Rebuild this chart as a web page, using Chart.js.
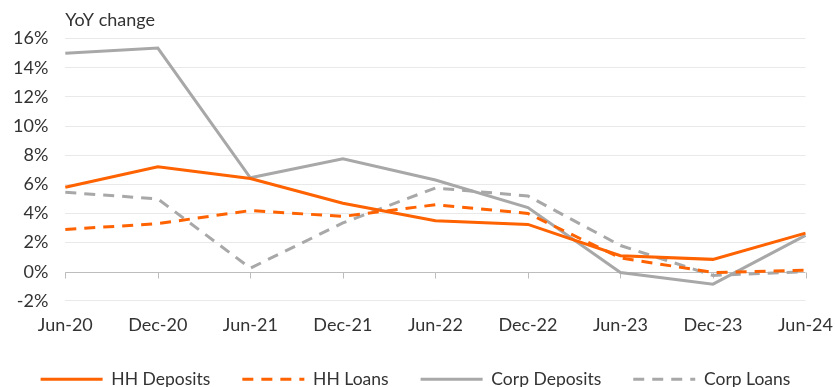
<!DOCTYPE html>
<html>
<head>
<meta charset="utf-8">
<script src="https://cdn.jsdelivr.net/npm/chart.js@4/dist/chart.umd.min.js"></script>
<style>
  html, body { margin: 0; padding: 0; background: #fff; overflow: hidden; }
  #wrap { width: 835px; height: 387px; position: relative; }
</style>
</head>
<body>
<div id="wrap"><canvas id="c"></canvas></div>
<script>
// Half-yearly periods
const periods = ['Jun-20', 'Dec-20', 'Jun-21', 'Dec-21', 'Jun-22', 'Dec-22', 'Jun-23', 'Dec-23', 'Jun-24'];

// Year-on-year growth, %
const hhDeposits   = [5.8, 7.2, 6.4, 4.7, 3.5, 3.25, 1.1, 0.85, 2.65];
const hhLoans      = [2.9, 3.3, 4.2, 3.8, 4.6, 4.0, 0.95, -0.05, 0.1];
const corpDeposits = [15.0, 15.35, 6.45, 7.75, 6.3, 4.4, -0.05, -0.85, 2.5];
const corpLoans    = [5.45, 5.0, 0.25, 3.35, 5.75, 5.2, 1.8, -0.25, 0.0];

const seriesNames = ['HH Deposits', 'HH Loans', 'Corp Deposits', 'Corp Loans'];
const yTicks = [-2, 0, 2, 4, 6, 8, 10, 12, 14, 16];

const ORANGE = '#ff6200';
const GREY = '#a8a8a8';
const TEXT = '#333333';
const FONT = 'Lato, "Noto Sans", sans-serif';

// Zero line with small downward tick marks at each period
const zeroTicks = {
  id: 'zeroTicks',
  beforeDatasetsDraw(chart) {
    const { ctx, scales: { x, y } } = chart;
    const y0 = Math.round(y.getPixelForValue(0)) + 0.5;
    ctx.save();
    ctx.strokeStyle = '#bdbdbd';
    ctx.lineWidth = 1;
    ctx.beginPath();
    ctx.moveTo(x.left, y0);
    ctx.lineTo(x.right, y0);
    periods.forEach((p, i) => {
      const px = Math.round(x.getPixelForValue(i)) + 0.5;
      ctx.moveTo(px, y0);
      ctx.lineTo(px, y0 + 6);
    });
    ctx.stroke();
    ctx.restore();
  }
};

function lineSet(label, data, color, dashed) {
  return {
    label, data,
    borderColor: color,
    backgroundColor: color,
    borderWidth: 3,
    borderDash: dashed ? [11, 8] : [],
    pointRadius: 0,
    pointHoverRadius: 0,
    tension: 0,
    fill: false
  };
}

new Chart(document.getElementById('c'), {
  type: 'line',
  plugins: [zeroTicks],
  data: {
    labels: periods,
    datasets: [
      lineSet(seriesNames[0], hhDeposits, ORANGE, false),
      lineSet(seriesNames[1], hhLoans, ORANGE, true),
      lineSet(seriesNames[2], corpDeposits, GREY, false),
      lineSet(seriesNames[3], corpLoans, GREY, true)
    ]
  },
  options: {
    responsive: true,
    maintainAspectRatio: false,
    animation: false,
    layout: { padding: { left: -4, right: 0, top: 0, bottom: -11 } },
    plugins: {
      tooltip: { enabled: false },
      title: {
        display: true,
        text: 'YoY change',
        align: 'start',
        fullSize: false,
        color: TEXT,
        font: { family: FONT, size: 18, weight: 'normal' },
        padding: { top: 9, bottom: 8 }
      },
      legend: {
        position: 'bottom',
        labels: {
          usePointStyle: true,
          pointStyle: 'line',
          pointStyleWidth: 62,
          boxHeight: 16,
          padding: 32,
          color: TEXT,
          font: { family: FONT, size: 17.5 },
          generateLabels(chart) {
            const items = Chart.defaults.plugins.legend.labels.generateLabels(chart);
            items.forEach(it => {
              const ds = chart.data.datasets[it.datasetIndex];
              it.lineDash = ds.borderDash;
              it.lineWidth = ds.borderWidth;
              it.strokeStyle = ds.borderColor;
              it.pointStyle = 'line';
            });
            return items;
          }
        }
      }
    },
    scales: {
      x: {
        offset: false,
        grid: { display: false, drawTicks: true, tickLength: 11 },
        border: { display: false },
        afterFit(axis) { axis.height += 1; },
        ticks: {
          color: TEXT,
          padding: 2,
          maxRotation: 0,
          autoSkip: false,
          font: { family: FONT, size: 18 }
        }
      },
      y: {
        min: -2,
        max: 16,
        afterBuildTicks(axis) { axis.ticks = yTicks.map(v => ({ value: v })); },
        grid: {
          color: ctx => ctx.tick && ctx.tick.value === 0 ? 'rgba(0,0,0,0)' : '#e9e9e9',
          lineWidth: 1,
          drawTicks: false
        },
        border: { display: false },
        ticks: {
          color: TEXT,
          padding: 17,
          font: { family: FONT, size: 18 },
          callback: v => v + '%'
        }
      }
    }
  }
});
</script>
</body>
</html>
